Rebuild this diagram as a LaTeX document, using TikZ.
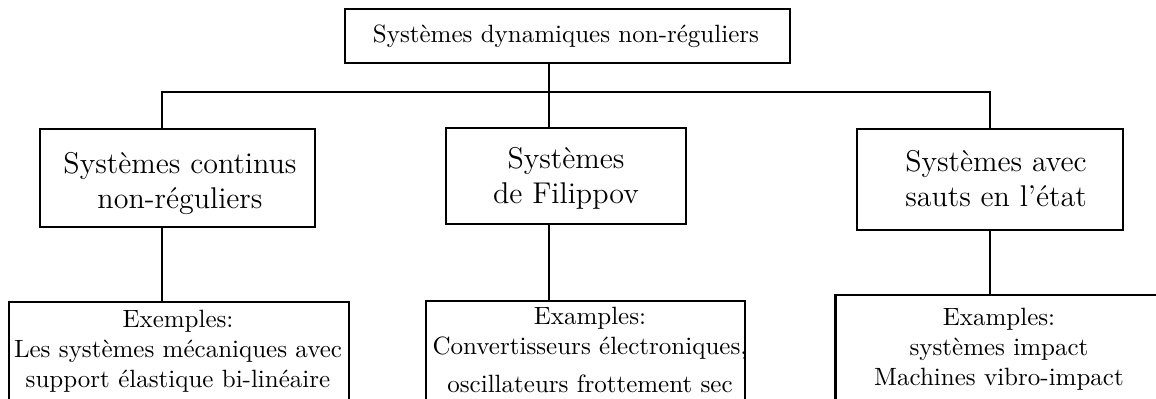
\documentclass[tikz,border=0pt]{standalone}
\begin{document}
\begin{tikzpicture}[x=0.4pt,y=-0.4pt,
  box/.style={draw,line width=1pt,inner sep=0pt},
  lnk/.style={line width=1pt},
  txt/.style={align=center,inner sep=0pt}]
\useasboundingbox (0,0) rectangle (1156,399);
\clip (0,0) rectangle (1156,399);
% top
\node[box,minimum width=178pt,minimum height=21.6pt] (top) at (567.5,36) {};
\node[txt] (ttop) at (566,36) {Systèmes dynamiques non-réguliers};
% middle boxes
\node[box,minimum width=110pt,minimum height=39.2pt] (b1) at (177.5,178) {};
\node[txt,font=\large] (t1) at (180,184) {Systèmes continus\\ non-réguliers};
\node[box,minimum width=96pt,minimum height=38.4pt] (b2) at (566,176) {};
\node[txt,font=\large] (t2) at (566,178) {Systèmes\\ de Filippov};
\node[box,minimum width=106.4pt,minimum height=40.4pt] (b3) at (990,179.5) {};
\node[txt,font=\large] (t3) at (996,178.5) {Systèmes avec\\ sauts en l'état};
% lower boxes
\node[box,minimum width=136pt,minimum height=44pt,anchor=north] (e1) at (179,301) {};
\node[txt] (u1) at (178,351) {Exemples:\hspace{1.2em}\\ Les systèmes mécaniques avec\\ support élastique bi-linéaire};
\node[box,minimum width=127.6pt,minimum height=44pt,anchor=north] (e2) at (585.5,300) {};
\node[txt] (u2) at (590,350) {Examples:\hspace{1.5em}\\ Convertisseurs électroniques,\\[3pt] oscillateurs frottement sec};
\node[box,minimum width=134pt,minimum height=44pt,anchor=west] (e3) at (834,350) {};
\node[txt] (u3) at (999,349) {Examples:\\ systèmes impact\\ Machines vibro-impact};
% connectors
\coordinate (bus) at (549,92);
\coordinate (j1) at (162,92);
\coordinate (j3) at (990,92);
\draw[lnk] (top.south -| bus) -- (bus);
\draw[lnk] (j1 |- b1.north) -- (j1) -- (j3) -- (j3 |- b3.north);
\draw[lnk] (bus) -- (bus |- b2.north);
\draw[lnk] (j1 |- b1.south) -- (j1 |- e1.north);
\draw[lnk] (bus |- b2.south) -- (bus |- e2.north);
\draw[lnk] (j3 |- b3.south) -- (j3 |- e3.north);
\end{tikzpicture}
\end{document}
